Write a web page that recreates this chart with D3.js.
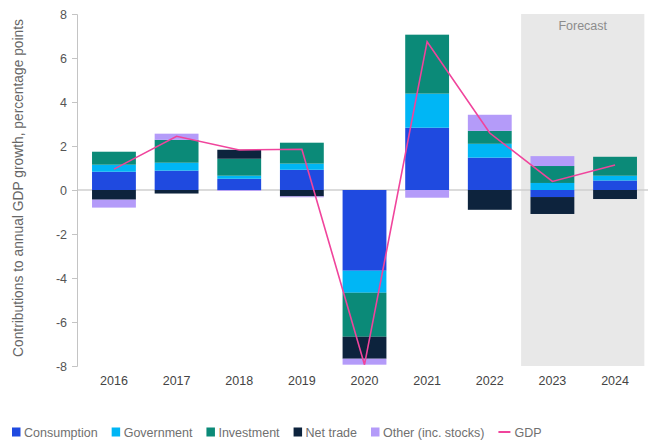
<!DOCTYPE html>
<html><head><meta charset="utf-8">
<script src="https://cdn.jsdelivr.net/npm/d3@7/dist/d3.min.js"></script>
<style>
body{margin:0;background:#fff;}
svg{display:block;font-family:"Liberation Sans",Arial,Helvetica,sans-serif;}
</style></head>
<body><svg id="c" width="648" height="441"></svg>
<script>
const years = ["2016","2017","2018","2019","2020","2021","2022","2023","2024"];
const consumption = [0.83, 0.88, 0.51, 0.92, -3.67, 2.83, 1.47, -0.32, 0.43];
const government  = [0.32, 0.36, 0.14, 0.28, -1.00, 1.55, 0.63, 0.32, 0.22];
const investment  = [0.59, 1.04, 0.77, 0.95, -2.00, 2.68, 0.59, 0.77, 0.86];
const netTrade    = [-0.44, -0.16, 0.41, -0.29, -1.00, 0.00, -0.90, -0.77, -0.41];
const other       = [-0.36, 0.28, -0.04, -0.04, -0.27, -0.35, 0.73, 0.45, 0.00];
const gdp         = [0.95, 2.44, 1.82, 1.85, -7.94, 6.74, 2.59, 0.39, 1.14];
const forecastYears = ["2023","2024"];
const yTicks = [-8,-6,-4,-2,0,2,4,6,8];
const seriesNames = ["Consumption","Government","Investment","Net trade","Other (inc. stocks)"];
const seriesColors = ["#1f4ae0","#00b6f5","#0b8a78","#0d233d","#b49bf9"];
const gdpColor = "#f0449c";

const svg = d3.select("#c");
const x = d3.scaleBand().domain(years).range([77, 652]).paddingInner(0.3).paddingOuter(0.24);
const y = d3.scaleLinear().domain([-8, 8]).range([366, 14]);

const table = years.map((yr,i)=>({year:yr, Consumption:consumption[i], Government:government[i], Investment:investment[i], "Net trade":netTrade[i], "Other (inc. stocks)":other[i]}));
const stack = d3.stack().keys(seriesNames).offset(d3.stackOffsetDiverging);
const layers = stack(table);

// forecast shading
const fx0 = x(forecastYears[0]) - x.step()*x.paddingInner()/2;
const fx1 = x(forecastYears[forecastYears.length-1]) + x.bandwidth() + x.step()*x.paddingInner()/2 - 2;
svg.append("rect").attr("x", fx0).attr("y", y(8)).attr("width", fx1-fx0).attr("height", y(-8)-y(8)).attr("fill","#e8e8e8");
svg.append("text").attr("x",(fx0+fx1)/2).attr("y", y(8)+16).attr("text-anchor","middle")
  .attr("font-size",12.5).attr("fill","#8c8c8c").text("Forecast");

// zero line
svg.append("line").attr("x1",77).attr("x2",648).attr("y1",y(0)).attr("y2",y(0)).attr("stroke","#cfcfcf").attr("stroke-width",1.5);

// bars
svg.append("g").selectAll("g").data(layers).join("g").attr("fill",(d,i)=>seriesColors[i])
  .selectAll("rect").data(d=>d).join("rect")
  .attr("x", d=>x(d.data.year)).attr("width", x.bandwidth())
  .attr("y", d=>y(Math.max(d[0],d[1]))).attr("height", d=>Math.abs(y(d[0])-y(d[1])));

// gdp line
const line = d3.line().x((d,i)=>x(years[i])+x.bandwidth()/2).y(d=>y(d));
svg.append("path").datum(gdp).attr("d", line).attr("fill","none").attr("stroke",gdpColor).attr("stroke-width",1.6);

// y axis
const yAxis = d3.axisLeft(y).tickValues(yTicks).tickSize(5).tickPadding(5).tickFormat(d=>String(d));
const ya = svg.append("g").attr("transform","translate(77,0)").call(yAxis);
ya.select(".domain").attr("stroke","#c4c4c4");
ya.selectAll(".tick line").attr("stroke","#c4c4c4");
ya.selectAll("text").attr("font-size",12.5).attr("fill","#555").attr("font-family","'Liberation Sans',Arial,sans-serif");

// x axis labels
const xAxis = d3.axisBottom(x).tickSize(0).tickPadding(10);
const xa = svg.append("g").attr("transform","translate(0,"+366+")").call(xAxis);
xa.select(".domain").remove();
xa.selectAll("text").attr("font-size",12.5).attr("fill","#444").attr("font-family","'Liberation Sans',Arial,sans-serif");

// y title
svg.append("text").attr("transform","translate(23,188) rotate(-90)").attr("text-anchor","middle")
  .attr("font-size",13.8).attr("fill","#666").text("Contributions to annual GDP growth, percentage points");

// legend
const lg = svg.append("g").attr("transform","translate(12,432)");
let cx = 0;
seriesNames.forEach((n,i)=>{
  lg.append("rect").attr("x",cx).attr("y",-4.5).attr("width",8.5).attr("height",9).attr("fill",seriesColors[i]);
  const t = lg.append("text").attr("x",cx+12).attr("y",4.5).attr("font-size",12.5).attr("fill","#707070").text(n);
  cx += 12 + t.node().getComputedTextLength() + 14;
});
lg.append("line").attr("x1",cx).attr("x2",cx+12).attr("y1",0).attr("y2",0).attr("stroke",gdpColor).attr("stroke-width",2);
lg.append("text").attr("x",cx+16).attr("y",4.5).attr("font-size",12.5).attr("fill","#707070").text("GDP");
</script></body></html>
